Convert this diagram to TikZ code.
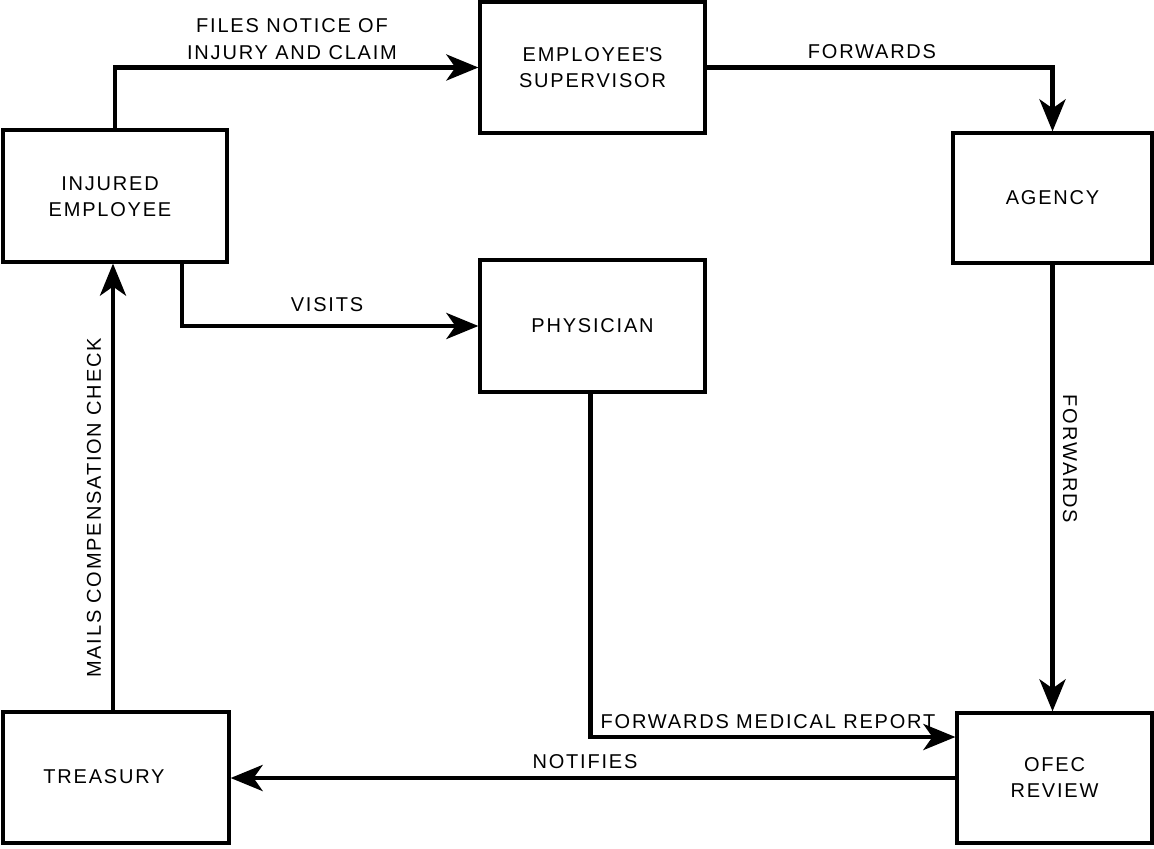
\documentclass[tikz,border=0pt]{standalone}
\usepackage{fontspec}
\setmainfont{Liberation Sans}[LetterSpace=9]
\usetikzlibrary{arrows.meta}
\tikzset{
  box/.style={draw, line width=1.6pt, rectangle, inner sep=2pt, align=center,
    font=\fontsize{10}{13}\selectfont},
  conn/.style={line width=2.3pt, -{Stealth[length=16pt, width=13pt, inset=4.5pt]}},
  lbl/.style={inner sep=0pt, align=center, font=\fontsize{10}{13.5}\selectfont}
}
\begin{document}
\begin{tikzpicture}[x=0.5pt, y=-0.5pt]
\useasboundingbox (0,0) rectangle (1154,849);
\node[box, minimum width=112pt, minimum height=66pt] (ie) at (115,196) {};
\node[font=\fontsize{10}{13}\selectfont, align=center] (iet) at (110,197) {INJURED\\EMPLOYEE};
\node[box, minimum width=112.5pt, minimum height=65.5pt] (sup) at (592.5,67.5) {EMPLOYEE\textquotesingle S\\SUPERVISOR};
\node[box, minimum width=99.5pt, minimum height=65pt] (ag) at (1052.5,198) {AGENCY};
\node[box, minimum width=112.5pt, minimum height=66pt] (phy) at (592.5,326) {PHYSICIAN};
\node[box, minimum width=113pt, minimum height=65.5pt] (tr) at (116,777.5) {};
\node[font=\fontsize{10}{13}\selectfont] (trt) at (104,777) {TREASURY};
\node[box, minimum width=97.5pt, minimum height=65pt] (ofec) at (1054.5,778) {OFEC\\REVIEW};

\draw[conn] (ie.north) |- (sup.west);
\draw[conn] (sup.east) -| (ag.north);
\draw[conn] ([xshift=33.5pt]ie.south) |- (phy.west);
\draw[conn] (ag.south) -- (ag.south |- ofec.north);
\draw[conn] ([xshift=-1pt]phy.south) |- ([yshift=20.5pt]ofec.west);
\draw[conn] (ofec.west) -- (ofec.west -| tr.east);
\draw[conn] ([xshift=-1.5pt]tr.north) -- ([xshift=-1.5pt]tr.north |- ie.south);

\node[lbl] (l1) at (292,39) {FILES NOTICE OF\\INJURY AND CLAIM};
\node[lbl] (l2) at (872,52) {FORWARDS};
\node[lbl] (l3) at (327,305) {VISITS};
\node[lbl, rotate=-90] (l4) at (1070,459) {FORWARDS};
\node[lbl] (l5) at (768,722) {FORWARDS MEDICAL REPORT};
\node[lbl] (l6) at (585,762) {NOTIFIES};
\node[lbl, rotate=90] (l7) at (94,508) {MAILS COMPENSATION CHECK};
\end{tikzpicture}
\end{document}
